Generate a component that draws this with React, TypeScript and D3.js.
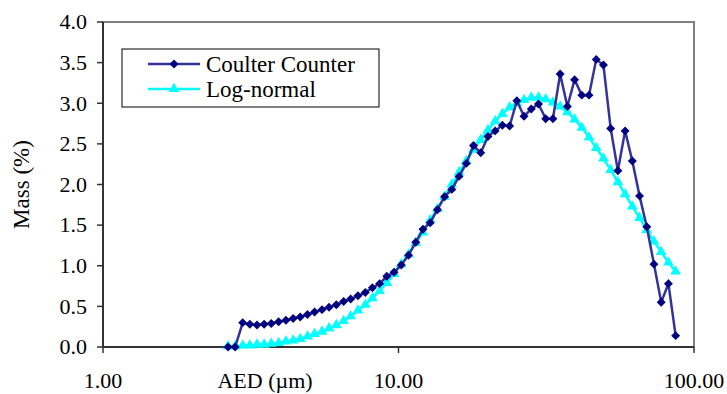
import React from 'react'
import * as d3 from 'd3'

// particle size bins (AED, µm)
const aed = [
  2.65, 2.80, 2.97, 3.14, 3.32, 3.51, 3.71, 3.93, 4.16, 4.40,
  4.65, 4.92, 5.20, 5.51, 5.82, 6.16, 6.52, 6.89, 7.29, 7.72,
  8.16, 8.63, 9.13, 9.66, 10.22, 10.81, 11.44, 12.10, 12.80, 13.54,
  14.32, 15.15, 16.03, 16.96, 17.94, 18.98, 20.08, 21.24, 22.47, 23.77,
  25.15, 26.60, 28.14, 29.77, 31.49, 33.31, 35.24, 37.28, 39.44, 41.72,
  44.13, 46.68, 49.38, 52.24, 55.26, 58.46, 61.84, 65.42, 69.21, 73.21,
  77.45, 81.93, 86.67,
]

const coulter = [
  0, 0, 0.30, 0.28, 0.27, 0.28, 0.29, 0.31, 0.33, 0.35,
  0.37, 0.40, 0.43, 0.46, 0.49, 0.52, 0.56, 0.59, 0.63, 0.67,
  0.73, 0.78, 0.87, 0.92, 1.01, 1.13, 1.29, 1.45, 1.53, 1.69,
  1.85, 1.94, 2.10, 2.26, 2.48, 2.39, 2.59, 2.66, 2.73, 2.72,
  3.03, 2.84, 2.93, 2.99, 2.81, 2.81, 3.36, 2.96, 3.29, 3.10,
  3.10, 3.54, 3.47, 2.69, 2.17, 2.66, 2.29, 1.86, 1.48, 1.02,
  0.55, 0.78, 0.14,
]

const logNormal = [
  0.01, 0.01, 0.02, 0.02, 0.03, 0.03, 0.04, 0.05, 0.07, 0.08,
  0.10, 0.13, 0.16, 0.19, 0.23, 0.27, 0.32, 0.38, 0.45, 0.52,
  0.60, 0.69, 0.79, 0.90, 1.02, 1.14, 1.28, 1.41, 1.56, 1.70,
  1.85, 2.00, 2.15, 2.29, 2.43, 2.55, 2.67, 2.78, 2.87, 2.95,
  3.00, 3.04, 3.07, 3.07, 3.05, 3.01, 2.96, 2.89, 2.80, 2.70,
  2.58, 2.45, 2.32, 2.18, 2.03, 1.88, 1.73, 1.59, 1.44, 1.30,
  1.17, 1.04, 0.93,
]

const yTicks = [0, 0.5, 1, 1.5, 2, 2.5, 3, 3.5, 4]
const xTicks = [1, 10, 100]
const seriesNames = ['Coulter Counter', 'Log-normal']

const W = 727, H = 394
const margin = { top: 22, right: 33, bottom: 47, left: 103 }
const font = 'Liberation Serif'
const navy = '#000080', navyLine = '#333399', cyan = '#00ffff'

const x = d3.scaleLog().domain([1, 100]).range([margin.left, W - margin.right])
const y = d3.scaleLinear().domain([0, 4]).range([H - margin.bottom, margin.top])

const line = d3.line<number>()
  .x((d, i) => x(aed[i]))
  .y(d => y(d))

const diamond = d3.symbol().type(d3.symbolSquare).size(40)() as string
const triangle = d3.symbol().type(d3.symbolTriangle).size(50)() as string
const fmtY = d3.format('.1f')
const fmtX = d3.format('.2f')

export default function App() {
  const x0 = x(1), x1 = x(100), y0 = y(0), y1 = y(4)
  return (
    <svg width={W} height={H} fontFamily={font} style={{ position: 'absolute', left: 0, top: 0 }}>
      {/* plot frame */}
      <rect x={x0} y={y1} width={x1 - x0} height={y0 - y1} fill="#fff" stroke="#808080" strokeWidth={2} />

      {/* y axis */}
      <line x1={x0} x2={x0} y1={y1} y2={y0} stroke="#333" strokeWidth={2} />
      {yTicks.map(t => (
        <g key={t} transform={`translate(0,${y(t)})`}>
          <line x1={x0 - 6} x2={x0} stroke="#333" strokeWidth={1.5} />
          <text x={x0 - 16} dy="0.33em" textAnchor="end" style={{ fontFamily: font, fontSize: '22px' }}>{fmtY(t)}</text>
        </g>
      ))}

      {/* x axis */}
      <line x1={x0} x2={x1} y1={y0} y2={y0} stroke="#333" strokeWidth={2} />
      {xTicks.map(t => (
        <g key={t} transform={`translate(${x(t)},${y0})`}>
          <line y1={0} y2={6} stroke="#333" strokeWidth={1.5} />
          <text y={41} textAnchor="middle" style={{ fontFamily: font, fontSize: '22px' }}>{fmtX(t)}</text>
        </g>
      ))}
      <text x={265} y={y0 + 41} textAnchor="middle" style={{ fontFamily: font, fontSize: '22px' }}>AED (µm)</text>
      <text transform={`translate(29,${(y0 + y1) / 2}) rotate(-90)`} textAnchor="middle"
        style={{ fontFamily: font, fontSize: '23px' }}>Mass (%)</text>

      {/* log-normal fit */}
      <path d={line(logNormal) ?? ''} fill="none" stroke={cyan} strokeWidth={2.5} />
      {logNormal.map((d, i) => (
        <path key={i} transform={`translate(${x(aed[i])},${y(d)})`} d={triangle} fill={cyan} />
      ))}

      {/* measured */}
      <path d={line(coulter) ?? ''} fill="none" stroke={navyLine} strokeWidth={2.5} />
      {coulter.map((d, i) => (
        <path key={i} transform={`translate(${x(aed[i])},${y(d)}) rotate(45)`} d={diamond} fill={navy} />
      ))}

      {/* legend */}
      <g transform="translate(122,49)">
        <rect width={257} height={58} fill="#fff" stroke="#000" strokeWidth={1} />
        {seriesNames.map((name, i) => {
          const cy = 15 + i * 25
          return (
            <g key={name}>
              <line x1={26} x2={78} y1={cy} y2={cy} stroke={i === 0 ? navyLine : cyan} strokeWidth={2.5} />
              <path transform={`translate(52,${cy})${i === 0 ? ' rotate(45)' : ''}`}
                d={i === 0 ? diamond : triangle} fill={i === 0 ? navy : cyan} />
              <text x={84} y={cy + 8} style={{ fontFamily: font, fontSize: '23px' }}>{name}</text>
            </g>
          )
        })}
      </g>
    </svg>
  )
}
